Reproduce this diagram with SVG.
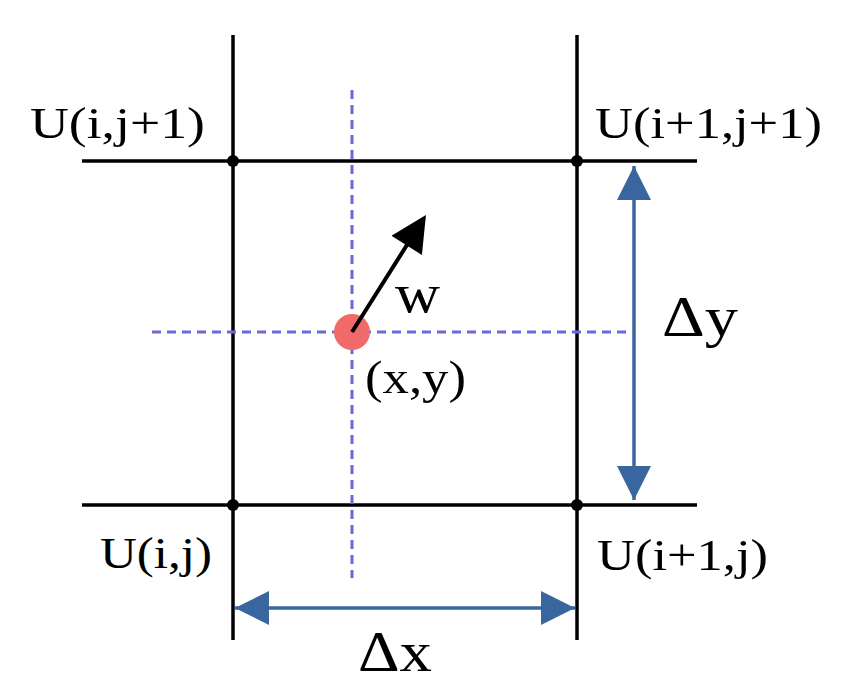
<svg xmlns="http://www.w3.org/2000/svg" width="845" height="698" viewBox="0 0 845 698">
<style>
.g{stroke:#000;stroke-width:3.5;fill:none}
.d{stroke:#6a6ad8;stroke-width:3;stroke-dasharray:9,6;fill:none}
.b{stroke:#3a66a0;stroke-width:3.5;fill:none}
text{font-family:"Liberation Serif",serif;fill:#000}
.l{font-size:44px}
</style>
<defs>
<marker id="bb" viewBox="0 0 10 10" refX="9" refY="5" markerWidth="48" markerHeight="36" orient="auto" markerUnits="userSpaceOnUse"><path d="M0,0 L10,5 L0,10z" fill="#000"/></marker>
<marker id="big" viewBox="0 0 10 10" refX="10" refY="5" markerWidth="42" markerHeight="34" orient="auto-start-reverse" markerUnits="userSpaceOnUse"><path d="M0,0 L10,5 L0,10z" fill="#3a66a0"/></marker>
</defs>
<rect width="845" height="698" fill="#fff"/>
<g id="grid">
<line class="g" x1="233" y1="35" x2="233" y2="640"/>
<line class="g" x1="577" y1="35" x2="577" y2="640"/>
<line class="g" x1="82" y1="161" x2="697" y2="161"/>
<line class="g" x1="82" y1="505" x2="697" y2="505"/>
</g>
<g id="dashes">
<line class="d" x1="352" y1="90" x2="352" y2="578"/>
<line class="d" x1="152" y1="332" x2="627" y2="332"/>
</g>
<g id="nodes">
<circle cx="233" cy="161" r="6"/><circle cx="577" cy="161" r="6"/>
<circle cx="233" cy="505" r="6"/><circle cx="577" cy="505" r="6"/>
<circle id="point" cx="352" cy="332" r="18" fill="#f06a6a"/>
</g>
<g id="connectors">
<line x1="352" y1="332" x2="424" y2="218" stroke="#000" stroke-width="4" marker-end="url(#bb)"/>
<line class="b" x1="634" y1="166" x2="634" y2="500" marker-start="url(#big)" marker-end="url(#big)"/>
<line class="b" x1="235" y1="608" x2="575" y2="608" marker-start="url(#big)" marker-end="url(#big)"/>
</g>
<g id="labels">
<text class="l" x="30" y="138" textLength="175" lengthAdjust="spacingAndGlyphs">U(i,j+1)</text>
<text class="l" x="595" y="138" textLength="227" lengthAdjust="spacingAndGlyphs">U(i+1,j+1)</text>
<text class="l" x="100" y="568" textLength="112" lengthAdjust="spacingAndGlyphs">U(i,j)</text>
<text class="l" x="597" y="570" textLength="171" lengthAdjust="spacingAndGlyphs">U(i+1,j)</text>
<text x="662" y="336" font-size="58" textLength="76" lengthAdjust="spacingAndGlyphs">Δy</text>
<text x="358" y="671" font-size="58" textLength="74" lengthAdjust="spacingAndGlyphs">Δx</text>
<text x="395" y="312" font-size="54" textLength="45" lengthAdjust="spacingAndGlyphs">w</text>
<text x="365" y="393" font-size="46" textLength="101" lengthAdjust="spacingAndGlyphs">(x,y)</text>
</g>
</svg>
